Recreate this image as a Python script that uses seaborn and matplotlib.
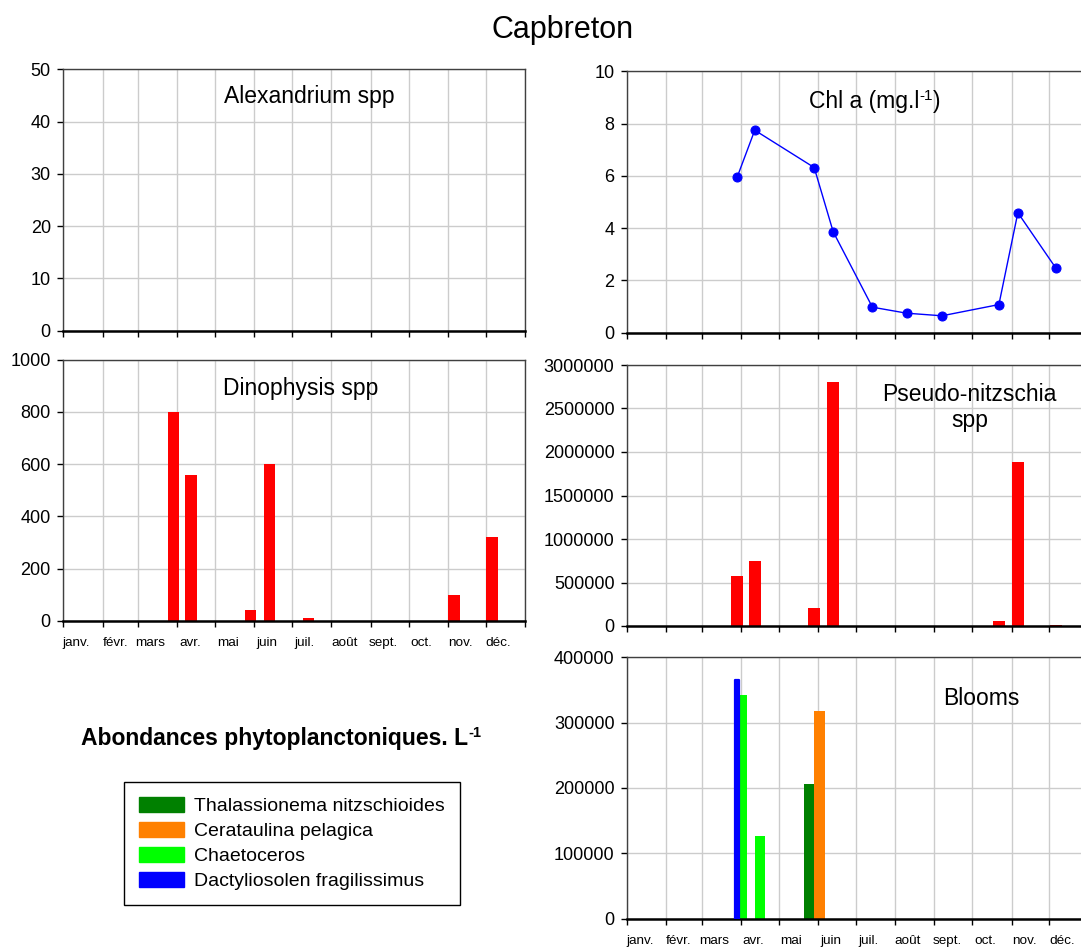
import numpy as np
import pandas as pd
import matplotlib
matplotlib.use("Agg")
import matplotlib.pyplot as plt
import matplotlib.ticker as mticker
from matplotlib.patches import Patch
import seaborn as sns

sns.set_style("white")
plt.rcParams['font.family'] = ['Liberation Sans', 'DejaVu Sans']
plt.rcParams['text.color'] = 'black'
plt.rcParams['axes.labelcolor'] = 'black'
plt.rcParams['xtick.color'] = 'black'
plt.rcParams['ytick.color'] = 'black'

# ---------------- data ----------------
site = "Capbreton"
year_start = "2007-01-01"
month_labels = ["janv.", "févr.", "mars", "avr.", "mai", "juin",
                "juil.", "août", "sept.", "oct.", "nov.", "déc."]
sample_dates = ["2007-03-29", "2007-04-12", "2007-05-29", "2007-06-13", "2007-07-14",
                "2007-08-10", "2007-09-07", "2007-10-22", "2007-11-06", "2007-12-06"]
alexandrium = [0, 0, 0, 0, 0, 0, 0, 0, 0, 0]
chl_a = [5.94, 7.75, 6.32, 3.86, 0.97, 0.74, 0.64, 1.07, 4.59, 2.47]
dinophysis = [800, 560, 40, 600, 10, 0, 0, 0, 100, 320]
pseudo_nitzschia = [580000, 750000, 210000, 2810000, 0, 0, 0, 57000, 1890000, 15000]

bloom_species = ["Thalassionema nitzschioides", "Cerataulina pelagica",
                 "Chaetoceros", "Dactyliosolen fragilissimus"]
bloom_colors = ["#008000", "#FF8000", "#00FF00", "#0000FF"]
bloom_dates = ["2007-05-29", "2007-05-29", "2007-03-29", "2007-04-12", "2007-03-29"]
bloom_taxon = ["Thalassionema nitzschioides", "Cerataulina pelagica",
               "Chaetoceros", "Chaetoceros", "Dactyliosolen fragilissimus"]
bloom_values = [206000, 317000, 342000, 127000, 365000]

# ---------------- helpers ----------------
t0 = pd.Timestamp(year_start)
def doy(dates):
    return np.array([(pd.Timestamp(d) - t0).days for d in dates], dtype=float)

days = doy(sample_dates)
month_starts = np.array([(d - t0).days for d in pd.date_range(year_start, periods=13, freq="MS")], dtype=float)

W, H = 1081, 947
fig = plt.figure(figsize=(W / 100, H / 100), dpi=100)
renderer = fig.canvas.get_renderer()

def px_axes(left, top, right, bottom):
    return fig.add_axes([left / W, 1 - bottom / H, (right - left) / W, (bottom - top) / H])

def rich_text(cx, cy, pieces):
    """pieces: list of (text, fontsize, raise_px, weight); centred at pixel (cx, cy from top)."""
    arts, widths = [], []
    for txt, fs, rise, wt in pieces:
        t = fig.text(0, 0, txt, fontsize=fs, fontweight=wt, ha='left', va='baseline', color='black')
        bb = t.get_window_extent(renderer=renderer)
        arts.append((t, rise))
        widths.append(bb.width)
    total = sum(widths)
    x = cx - total / 2
    base = cy + pieces[0][1] * 100 / 72 * 0.36  # baseline below visual centre
    for (t, rise), w in zip(arts, widths):
        t.set_position((x / W, 1 - (base - rise) / H))
        x += w

def style_axes(ax, ymax, ystep, show_labels, right_open=False):
    ax.set_xlim(0, 365)
    ax.set_ylim(0, ymax)
    ax.set_yticks(np.arange(0, ymax + ystep / 2, ystep))
    ax.yaxis.set_major_formatter(mticker.StrMethodFormatter('{x:.0f}'))
    ax.set_xticks(month_starts)
    ax.set_xticklabels([])
    ax.set_xticks(month_starts[:12] + 10, minor=True)
    if show_labels:
        ax.set_xticklabels(month_labels, minor=True)
    else:
        ax.set_xticklabels([], minor=True)
    ax.tick_params(axis='x', which='major', bottom=True, length=4, width=1, color='black', direction='out')
    ax.tick_params(axis='x', which='minor', bottom=True, length=0, pad=12, labelsize=9.7, labelcolor='black')
    ax.tick_params(axis='y', which='major', left=True, length=4, width=1, color='black',
                   direction='out', pad=5, labelsize=13, labelcolor='black')
    ax.grid(True, which='major', color='#cccccc', linewidth=1)
    ax.set_axisbelow(True)
    for s in ['top', 'left', 'right']:
        ax.spines[s].set_color('#404040')
        ax.spines[s].set_linewidth(1)
    ax.spines['bottom'].set_color('black')
    ax.spines['bottom'].set_linewidth(1.8)
    if right_open:
        ax.spines['right'].set_visible(False)
    ax.set_xlabel('')
    ax.set_ylabel('')

# ---------------- panels ----------------
ax_alex = px_axes(63.3, 69.3, 525, 330.5)
ax_chl = px_axes(627, 71.5, 1088.7, 332.5)
ax_dino = px_axes(63.3, 359.7, 525, 620.7)
ax_pn = px_axes(627, 365, 1088.7, 626)
ax_bl = px_axes(627, 657.3, 1088.7, 918.5)

# Alexandrium (all zero)
sns.barplot(x=days, y=alexandrium, native_scale=True, color='#FF0000', saturation=1,
            width=0.65, errorbar=None, ax=ax_alex, linewidth=0)
style_axes(ax_alex, 50, 10, False)
ax_alex.text(0.532, 0.894, "Alexandrium spp", transform=ax_alex.transAxes,
             ha='center', va='center', fontsize=16.5, color='black')

# Chl a
sns.lineplot(x=days, y=chl_a, color='#0000FF', marker='o', markersize=6.5,
             markeredgecolor='#0000FF', linewidth=1, ax=ax_chl)
style_axes(ax_chl, 10, 2, False, right_open=True)
rich_text(875, 100, [("Chl a (mg.l", 16.5, 0, 'normal'), ("-1", 11, 8, 'normal'),
                     (")", 16.5, 0, 'normal')])

# Dinophysis
sns.barplot(x=days, y=dinophysis, native_scale=True, color='#FF0000', saturation=1,
            width=0.65, errorbar=None, ax=ax_dino, linewidth=0)
style_axes(ax_dino, 1000, 200, True)
ax_dino.text(0.515, 0.89, "Dinophysis spp", transform=ax_dino.transAxes,
             ha='center', va='center', fontsize=16.5, color='black')

# Pseudo-nitzschia
sns.barplot(x=days, y=pseudo_nitzschia, native_scale=True, color='#FF0000', saturation=1,
            width=0.65, errorbar=None, ax=ax_pn, linewidth=0)
style_axes(ax_pn, 3000000, 500000, False, right_open=True)
ax_pn.text(0.742, 0.837, "Pseudo-nitzschia\nspp", transform=ax_pn.transAxes,
           ha='center', va='center', fontsize=16.5, linespacing=1.15, color='black')

# Blooms
bloom_days = doy(bloom_dates)
offset = {"Thalassionema nitzschioides": -4.1, "Cerataulina pelagica": 4.1,
          "Chaetoceros": 4.1, "Dactyliosolen fragilissimus": 0.0}
bwidth = {"Thalassionema nitzschioides": 8.2, "Cerataulina pelagica": 8.2,
          "Chaetoceros": 8.2, "Dactyliosolen fragilissimus": 3.2}
color_of = dict(zip(bloom_species, bloom_colors))
for sp in bloom_species:
    idx = [i for i, t in enumerate(bloom_taxon) if t == sp]
    xs = bloom_days[idx] + offset[sp]
    vs = np.array(bloom_values)[idx]
    if sp == "Dactyliosolen fragilissimus":
        ax_bl.bar(xs, vs, width=bwidth[sp], color=color_of[sp], edgecolor=color_of[sp],
                  linewidth=1.6, joinstyle='round', capstyle='round', zorder=3)
    else:
        ax_bl.bar(xs, vs, width=bwidth[sp], color=color_of[sp], linewidth=0, zorder=2)
style_axes(ax_bl, 400000, 100000, True, right_open=True)
ax_bl.text(0.767, 0.844, "Blooms", transform=ax_bl.transAxes,
           ha='center', va='center', fontsize=16.5, color='black')

# ---------------- figure texts ----------------
fig.text(562.5 / W, 1 - 38.3 / H, site, ha='center', va='baseline', fontsize=22, color='black')
rich_text(281, 737, [("Abondances phytoplanctoniques. L", 16.5, 0, 'bold'),
                     ("-1", 10.5, 8, 'bold')])

handles = [Patch(facecolor=c, edgecolor=c, label=s) for s, c in zip(bloom_species, bloom_colors)]
leg = fig.legend(handles=handles, loc='upper left',
                 bbox_to_anchor=(124.3 / W, 1 - 782.3 / H), bbox_transform=fig.transFigure,
                 frameon=True, fancybox=False, edgecolor='black', framealpha=1,
                 fontsize=14, handlelength=2.3, handleheight=0.78, handletextpad=0.55,
                 labelspacing=0.36, borderpad=0.75, borderaxespad=0, labelcolor='black')
leg.get_frame().set_linewidth(1)

fig.savefig("out.png", dpi=100)
